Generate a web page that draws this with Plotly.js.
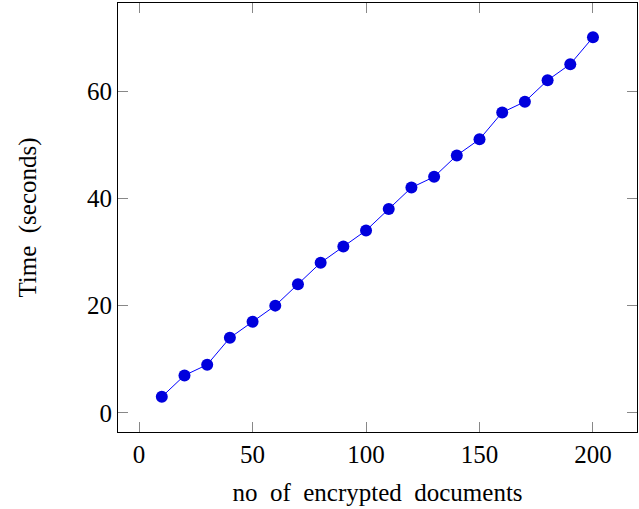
<!DOCTYPE html>
<html><head><meta charset="utf-8">
<script src="https://cdn.plot.ly/plotly-3.0.1.min.js"></script>
<style>html,body{margin:0;padding:0;background:#fff}#c{width:639px;height:509px}</style>
</head><body><div id="c"></div>
<script>
const docs = [10,20,30,40,50,60,70,80,90,100,110,120,130,140,150,160,170,180,190,200];
const times = [3,7,9,14,17,20,24,28,31,34,38,42,44,48,51,56,58,62,65,70];
const xTicks = [0,50,100,150,200];
const yTicks = [0,20,40,60];
const xTitle = 'no\u2002of\u2002encrypted\u2002documents';
const yTitle = 'Time\u2002(seconds)';
const font = {family:'"Liberation Serif", "DejaVu Serif", serif', size:25, color:'#000'};
const trace = {x:docs, y:times, type:'scatter', mode:'lines+markers',
  line:{color:'#0000ff', width:1}, marker:{color:'#0000dd', size:12}};
const axisCommon = {showgrid:false, zeroline:false, showline:true, linecolor:'#000', linewidth:1,
  mirror:'ticks', ticks:'inside', ticklen:10, tickcolor:'#888', tickwidth:1, tickfont:font, automargin:false};
const layout = {
  width:639, height:509, margin:{l:118, r:2, t:3, b:77},
  paper_bgcolor:'#fff', plot_bgcolor:'#fff', showlegend:false, font:font,
  xaxis:Object.assign({}, axisCommon, {range:[-9.3,219.4], tickvals:xTicks, ticktext:xTicks.map(String),
    title:{text:xTitle, font:font, standoff:16}}),
  yaxis:Object.assign({}, axisCommon, {range:[-3.55,76.4], tickvals:yTicks, ticktext:yTicks.map(String),
    title:{text:yTitle, font:font, standoff:43}})
};
Plotly.newPlot('c', [trace], layout, {staticPlot:true, displayModeBar:false});
</script></body></html>
